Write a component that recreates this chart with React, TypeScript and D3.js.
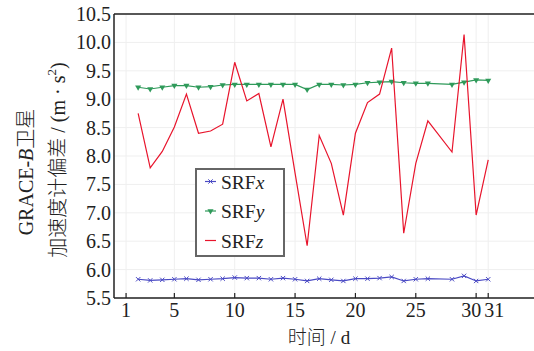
import React from 'react';
import * as d3 from 'd3';

// days with data (day 27 is missing in the source)
const days = [2, 3, 4, 5, 6, 7, 8, 9, 10, 11, 12, 13, 14, 15, 16, 17, 18, 19, 20, 21, 22, 23, 24, 25, 26, 28, 29, 30, 31];

const srfX = [5.83, 5.81, 5.82, 5.83, 5.84, 5.82, 5.83, 5.84, 5.86, 5.85, 5.85, 5.83, 5.85, 5.83, 5.80, 5.84, 5.82, 5.80, 5.84, 5.84, 5.85, 5.87, 5.80, 5.83, 5.84, 5.83, 5.89, 5.80, 5.83];
const srfY = [9.21, 9.18, 9.21, 9.24, 9.24, 9.21, 9.22, 9.25, 9.26, 9.26, 9.26, 9.26, 9.26, 9.26, 9.17, 9.26, 9.26, 9.25, 9.26, 9.29, 9.30, 9.31, 9.29, 9.28, 9.28, 9.26, 9.30, 9.34, 9.33];
const srfZ = [8.75, 7.79, 8.08, 8.51, 9.09, 8.40, 8.44, 8.56, 9.65, 8.97, 9.10, 8.16, 9.00, 7.70, 6.42, 8.36, 7.87, 6.96, 8.40, 8.94, 9.09, 9.90, 6.64, 7.87, 8.62, 8.07, 10.14, 6.96, 7.93];

const xTicks = [1, 5, 10, 15, 20, 25, 30, 31];
const yTicks = [5.5, 6.0, 6.5, 7.0, 7.5, 8.0, 8.5, 9.0, 9.5, 10.0, 10.5];

const series = [
  {name: 'x', values: srfX, color: '#4a4ac4', marker: 'x'},
  {name: 'y', values: srfY, color: '#2f9a5a', marker: 'tri'},
  {name: 'z', values: srfZ, color: '#e8142c', marker: 'none'},
];

const W = 534, H = 351;
const margin = {top: 14, left: 114, bottom: 298};
const serif = {fontFamily: "'Liberation Serif', 'Times New Roman', serif"};
const cjk = {fontFamily: "'Noto Sans CJK SC', sans-serif", fontWeight: 300};

function Marker({m, x, y, color}: {m: string; x: number; y: number; color: string}) {
  if (m === 'x') {
    const p = d3.symbol(d3.symbolTimes, 14)();
    return <path d={p || ''} transform={`translate(${x},${y})`} stroke={color} strokeWidth={1} fill="none" />;
  }
  if (m === 'tri') {
    const p = d3.symbol(d3.symbolTriangle, 16)();
    return <path d={p || ''} transform={`translate(${x},${y}) rotate(180)`} fill={color} />;
  }
  return null;
}

export default function App() {
  const x = d3.scaleLinear().domain([0, 35]).range([margin.left, 536.5]);
  const y = d3.scaleLinear().domain([5.5, 10.5]).range([margin.bottom, margin.top]);

  const line = (vals: number[]) =>
    d3.line<number>().x((d, i) => x(days[i])).y(d => y(d))(vals) || '';

  // 30 and 31 sit close together, so their labels are pushed apart
  const tickDx: Record<number, number> = {30: -5, 31: 6};

  return (
    <svg width={W} height={H} style={{position: 'absolute', left: 0, top: 0, background: '#fff'}}>
      {/* grid */}
      <g stroke="#efefef" strokeWidth={1}>
        {xTicks.map(t => (
          <line key={'gx' + t} x1={x(t)} x2={x(t)} y1={margin.top} y2={margin.bottom} />
        ))}
        {yTicks.map(t => (
          <line key={'gy' + t} x1={margin.left} x2={W} y1={y(t)} y2={y(t)} />
        ))}
      </g>

      {/* series */}
      {series.map(s => (
        <g key={s.name}>
          <path d={line(s.values)} fill="none" stroke={s.color} strokeWidth={1.2} />
          {s.values.map((v, i) => (
            <Marker key={i} m={s.marker} x={x(days[i])} y={y(v)} color={s.color} />
          ))}
        </g>
      ))}

      {/* axes frame */}
      <g stroke="#222" strokeWidth={1.5} fill="none">
        <line x1={margin.left} x2={W} y1={margin.top} y2={margin.top} />
        <line x1={margin.left} x2={W} y1={margin.bottom} y2={margin.bottom} />
        <line x1={margin.left} x2={margin.left} y1={margin.top} y2={margin.bottom} />
      </g>
      <g stroke="#222" strokeWidth={1.2}>
        {xTicks.map(t => (
          <line key={'tx' + t} x1={x(t)} x2={x(t)} y1={margin.bottom} y2={margin.bottom - 5} />
        ))}
      </g>

      {/* tick labels */}
      {yTicks.map(t => (
        <text key={'ly' + t} x={111} y={y(t) + 7} textAnchor="end" fontSize={20} fill="#222" style={serif}>
          {t.toFixed(1)}
        </text>
      ))}
      {xTicks.map(t => (
        <text key={'lx' + t} x={x(t) + (tickDx[t] || 0)} y={316.5} textAnchor="middle" fontSize={20} fill="#222" style={serif}>
          {t}
        </text>
      ))}

      {/* axis titles */}
      <text x={319} y={344} textAnchor="middle" fontSize={19} fill="#222">
        <tspan style={cjk}>时间</tspan>
        <tspan style={serif}> / d</tspan>
      </text>
      <text transform="translate(33,172) rotate(-90)" textAnchor="middle" fontSize={20} fill="#222">
        <tspan style={serif}>GRACE-</tspan>
        <tspan style={{...serif, fontStyle: 'italic'}}>B</tspan>
        <tspan style={cjk}>卫星</tspan>
      </text>
      <text transform="translate(65,160) rotate(-90)" textAnchor="middle" fontSize={20} fill="#222">
        <tspan style={cjk}>加速度计偏差</tspan>
        <tspan style={serif}> / (m · s</tspan>
        <tspan style={serif} fontSize={13} dy={-9}>2</tspan>
        <tspan style={serif} dy={9}>)</tspan>
      </text>

      {/* legend */}
      <g>
        <rect x={196} y={169} width={88} height={87} fill="#fff" stroke="#666" strokeWidth={2} />
        {series.map((s, i) => {
          const ly = 181.5 + i * 29.5;
          return (
            <g key={'lg' + s.name}>
              <line x1={205} x2={216} y1={ly} y2={ly} stroke={s.color} strokeWidth={1.2} />
              <Marker m={s.marker} x={210.5} y={ly} color={s.color} />
              <text x={221} y={ly + 7} fontSize={19.5} fill="#222" style={serif}>
                SRF<tspan fontStyle="italic">{s.name}</tspan>
              </text>
            </g>
          );
        })}
      </g>
    </svg>
  );
}
